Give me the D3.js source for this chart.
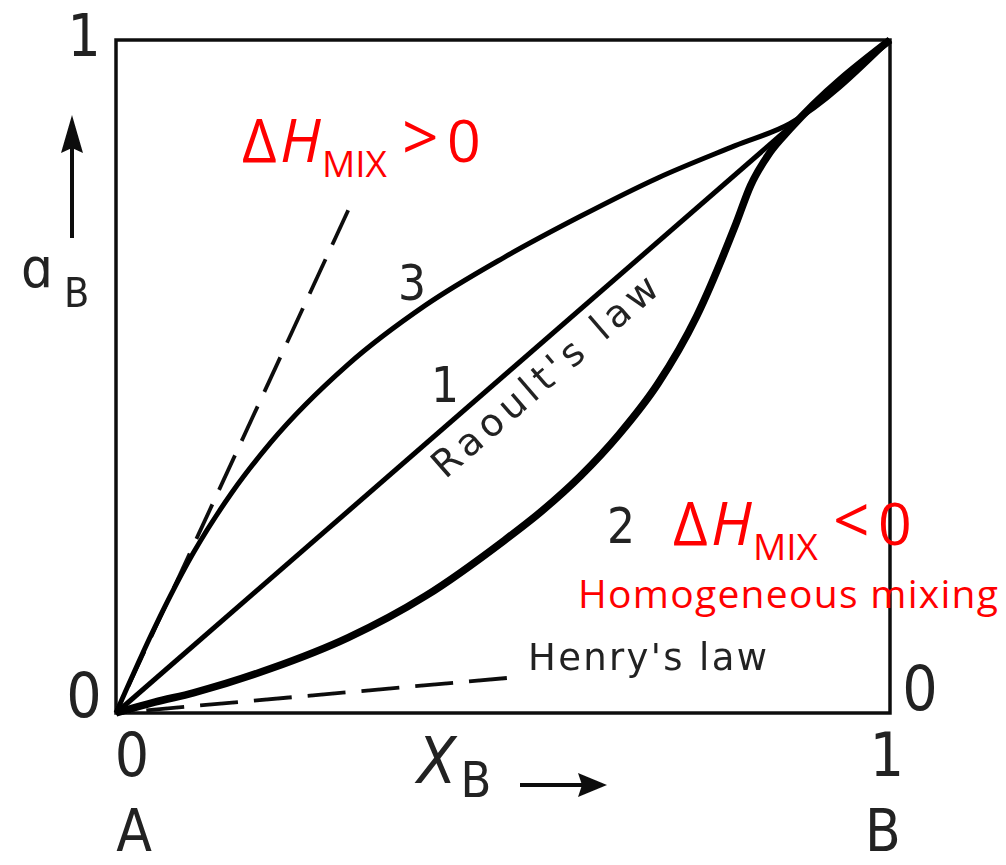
<!DOCTYPE html>
<html>
<head>
<meta charset="utf-8">
<script src="https://cdn.jsdelivr.net/npm/d3@7"></script>
<style>
  html, body { margin: 0; padding: 0; background: #fff; }
  svg { display: block; }
</style>
</head>
<body>
<svg id="chart" width="1006" height="865"></svg>
<script>
// Activity of component B versus its mole fraction in a binary A–B solution.

// Curve 1 – Raoult's law (ideal solution)
const raoultX = [0, 1];
const raoultY = [0, 1];

// Curve 3 – positive deviation
const posDevX = [0, 0.05, 0.10, 0.15, 0.20, 0.30, 0.40, 0.50, 0.60, 0.70, 0.80, 0.871, 1];
const posDevY = [0, 0.127, 0.238, 0.328, 0.402, 0.518, 0.606, 0.676, 0.738, 0.795, 0.843, 0.876, 1];

// Curve 2 – negative deviation
const negDevX = [0, 0.05, 0.10, 0.20, 0.30, 0.40, 0.50, 0.55, 0.60, 0.65, 0.70, 0.75, 0.80, 0.82, 0.845, 0.871, 1];
const negDevY = [0, 0.016, 0.030, 0.066, 0.112, 0.174, 0.255, 0.300, 0.352, 0.414, 0.489, 0.589, 0.724, 0.784, 0.833, 0.868, 1];

// Henry's law tangents at infinite dilution (drawn from the far end toward the origin)
const henryPosX = [0.300, 0];
const henryPosY = [0.747, 0];
const henryNegX = [0.505, 0];
const henryNegY = [0.052, 0];

// Axis tick labels
const xTickValues = [0, 1];
const xTickLabels = ["0", "1"];
const yTickValues = [0, 1];
const yTickLabels = ["0", "1"];
const endLabels = ["A", "B"];

const svg = d3.select("#chart");
const x = d3.scaleLinear().domain([0, 1]).range([116, 890]);
const y = d3.scaleLinear().domain([0, 1]).range([713, 40]);

const defs = svg.append("defs");
defs.append("filter").attr("id", "soft")
  .attr("x", "-5%").attr("y", "-5%").attr("width", "110%").attr("height", "110%")
  .append("feGaussianBlur").attr("stdDeviation", 0.6);

const ink = svg.append("g").attr("filter", "url(#soft)");
const blackFont = "'DejaVu Sans Condensed', 'DejaVu Sans', sans-serif";
const labelFont = "'DejaVu Sans', sans-serif";
const textInk = "#222";

const zip = (xs, ys) => xs.map((v, i) => [v, ys[i]]);
const smooth = d3.line().x(d => x(d[0])).y(d => y(d[1])).curve(d3.curveMonotoneX);
const straight = d3.line().x(d => x(d[0])).y(d => y(d[1]));

// Frame
ink.append("rect")
  .attr("x", x(0)).attr("y", y(1))
  .attr("width", x(1) - x(0)).attr("height", y(0) - y(1))
  .attr("fill", "none").attr("stroke", "#111").attr("stroke-width", 3.5);

// Dashed Henry's-law tangents
ink.append("path").attr("d", straight(zip(henryPosX, henryPosY)))
  .attr("fill", "none").attr("stroke", "#111").attr("stroke-width", 3.8)
  .attr("stroke-dasharray", "38 16");
ink.append("path").attr("d", straight(zip(henryNegX, henryNegY)))
  .attr("fill", "none").attr("stroke", "#111").attr("stroke-width", 3.8)
  .attr("stroke-dasharray", "38 16");

// Curves
ink.append("path").attr("d", straight(zip(raoultX, raoultY)))
  .attr("fill", "none").attr("stroke", "#000").attr("stroke-width", 5);
ink.append("path").attr("d", smooth(zip(posDevX, posDevY)))
  .attr("fill", "none").attr("stroke", "#000").attr("stroke-width", 5);
ink.append("path").attr("d", smooth(zip(negDevX, negDevY)))
  .attr("fill", "none").attr("stroke", "#000").attr("stroke-width", 7.5)
  .attr("stroke-linejoin", "round");

// Tick labels
xTickValues.forEach((v, i) => {
  ink.append("text").attr("x", x(v) + (v === 0 ? 16 : -3)).attr("y", 776)
    .attr("text-anchor", "middle").attr("font-family", blackFont)
    .attr("font-size", 60).attr("fill", textInk).text(xTickLabels[i]);
  ink.append("text").attr("x", x(v) + (v === 0 ? 18 : -7)).attr("y", 851)
    .attr("text-anchor", "middle").attr("font-family", blackFont)
    .attr("font-size", 58).attr("fill", textInk).text(endLabels[i]);
});
yTickValues.forEach((v, i) => {
  ink.append("text").attr("x", x(0) - 32).attr("y", y(v) + (v === 0 ? 4 : 16))
    .attr("text-anchor", "middle").attr("font-family", blackFont)
    .attr("font-size", v === 0 ? 62 : 58).attr("fill", textInk).text(yTickLabels[i]);
});
// right-hand zero
ink.append("text").attr("x", x(1) + 30).attr("y", y(0) - 3)
  .attr("text-anchor", "middle").attr("font-family", blackFont)
  .attr("font-size", 62).attr("fill", textInk).text(yTickLabels[0]);

// Axis titles with arrows
const xTitle = ink.append("text").attr("x", 417).attr("y", 783)
  .attr("font-family", blackFont).attr("fill", textInk);
xTitle.append("tspan").attr("font-size", 64).attr("font-style", "italic").text("X");
xTitle.append("tspan").attr("font-size", 50).attr("dx", 4).attr("dy", 14).text("B");

ink.append("line").attr("x1", 520).attr("y1", 785).attr("x2", 585).attr("y2", 785)
  .attr("stroke", "#111").attr("stroke-width", 4);
ink.append("path").attr("d", "M607,785 L578,773 L582,785 L578,797 Z").attr("fill", "#111");

const yTitle = ink.append("text").attr("x", 21).attr("y", 287)
  .attr("font-family", blackFont).attr("fill", textInk);
yTitle.append("tspan").attr("font-size", 56).text("ɑ");
yTitle.append("tspan").attr("font-size", 41).attr("x", 64).attr("y", 307).text("B");

ink.append("line").attr("x1", 72).attr("y1", 238).attr("x2", 72).attr("y2", 140)
  .attr("stroke", "#111").attr("stroke-width", 4);
ink.append("path").attr("d", "M72,115 L61,153 L72,148 L83,153 Z").attr("fill", "#111");

// Curve numbers
const curveNums = [
  { t: "3", x: 412, y: 300 },
  { t: "1", x: 445, y: 402 },
  { t: "2", x: 621, y: 543 }
];
curveNums.forEach(d => {
  ink.append("text").attr("x", d.x).attr("y", d.y).attr("text-anchor", "middle")
    .attr("font-family", blackFont).attr("font-size", 49).attr("fill", textInk).text(d.t);
});

// Raoult's law label along the diagonal
const diagAngle = Math.atan2(y(0) - y(1), x(1) - x(0)) * 180 / Math.PI;
const t = 0.531;
const nx = Math.sin(diagAngle * Math.PI / 180), ny = Math.cos(diagAngle * Math.PI / 180);
const rx = x(t) + 40 * nx, ry = y(t) + 40 * ny;
ink.append("text")
  .attr("transform", `translate(${rx},${ry}) rotate(${-diagAngle})`)
  .attr("text-anchor", "middle").attr("font-family", labelFont)
  .attr("font-size", 38).attr("fill", textInk)
  .attr("textLength", 286).attr("lengthAdjust", "spacing")
  .text("Raoult's law");

ink.append("text").attr("x", 528).attr("y", 670)
  .attr("font-family", labelFont).attr("font-size", 37).attr("fill", textInk)
  .attr("textLength", 239).attr("lengthAdjust", "spacing")
  .text("Henry's law");

// Red annotations
const redFont = "'Open Sans', Lato, sans-serif";
function deltaH(x0, base, sign) {
  const g = svg.append("g").attr("fill", "#ff0000").attr("font-family", redFont);
  g.append("text").attr("x", x0).attr("y", base).attr("font-size", 60).text("Δ");
  g.append("text").attr("x", x0 + 38).attr("y", base).attr("font-size", 60)
    .attr("font-style", "italic").text("H");
  g.append("text").attr("x", x0 + 80).attr("y", base + 15).attr("font-size", 37)
    .attr("textLength", 65).attr("lengthAdjust", "spacingAndGlyphs").text("MIX");
  g.append("text").attr("x", x0 + 160).attr("y", base - 2).attr("font-size", 64).text(sign);
  g.append("text").attr("x", x0 + 205).attr("y", base).attr("font-size", 59).text("0");
}
deltaH(242, 162, ">");
deltaH(673, 545, "<");

svg.append("text").attr("x", 578).attr("y", 608)
  .attr("fill", "#ff0000").attr("font-family", redFont).attr("font-size", 39)
  .attr("textLength", 420).attr("lengthAdjust", "spacing")
  .text("Homogeneous mixing");
</script>
</body>
</html>
